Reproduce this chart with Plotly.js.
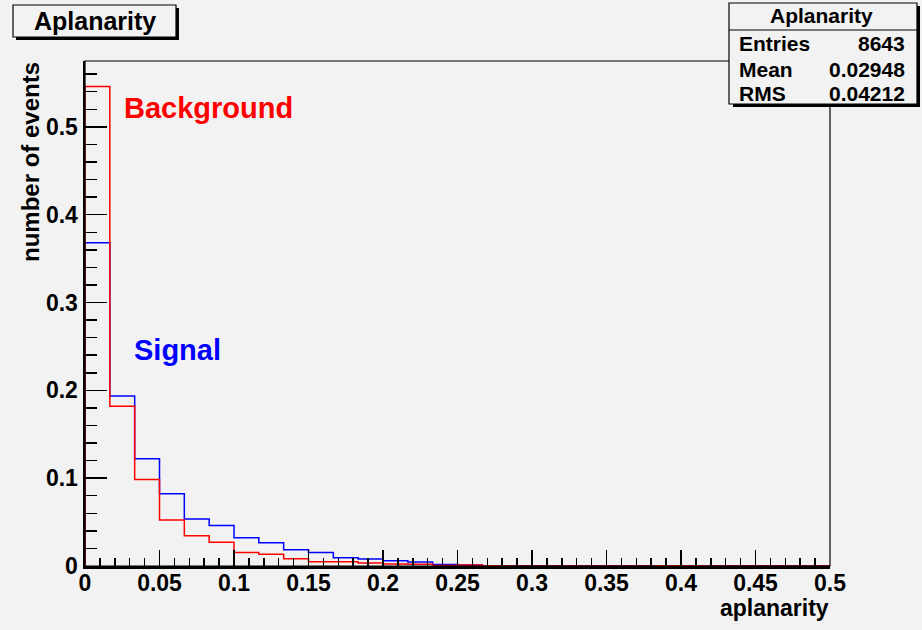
<!DOCTYPE html>
<html>
<head>
<meta charset="utf-8">
<script src="https://cdn.plot.ly/plotly-3.0.1.min.js"></script>
<style>
  html, body { margin: 0; padding: 0; background: #f2f2f2; }
  #chart { width: 922px; height: 630px; }
</style>
</head>
<body>
<div id="chart"></div>
<script>
// ---- data (30 bins on [0, 0.5]) ----
const xMin = 0;
const xMax = 0.5;
const nBins = 30;
const backgroundValues = [
  0.546, 0.182, 0.0985, 0.0523, 0.0345, 0.027, 0.0155, 0.0133, 0.0083, 0.0049,
  0.0049, 0.0034, 0.0023, 0.0020, 0.0006, 0.0010, 0.0002, 0.0001, 0.0001, 0.0001,
  0.0001, 0.0001, 0.0001, 0.0004, 0.0004, 0.0001, 0.0001, 0.0001, 0.0000, 0.0000
];
const signalValues = [
  0.368, 0.1935, 0.122, 0.0822, 0.0534, 0.0460, 0.0322, 0.0265, 0.0185, 0.0155,
  0.0095, 0.0080, 0.0060, 0.0045, 0.0018, 0.0012, 0.0004, 0.0003, 0.0003, 0.0002,
  0.0002, 0.0002, 0.0002, 0.0001, 0.0001, 0.0002, 0.0002, 0.0002, 0.0002, 0.0002
];
const statsTitle = "Aplanarity";
const statsLabels = ["Entries", "Mean", "RMS"];
const statsValues = ["8643", "0.02948", "0.04212"];
const histTitle = "Aplanarity";
const xTitle = "aplanarity";
const yTitle = "number of events";

// ---- build step outlines from the bin contents ----
function stepTrace(values) {
  const w = (xMax - xMin) / nBins;
  const xs = [xMin], ys = [0];
  for (let i = 0; i < values.length; i++) {
    xs.push(xMin + i * w);
    ys.push(values[i]);
  }
  xs.push(xMax);
  ys.push(values[values.length - 1]);
  return { xs, ys };
}
const sig = stepTrace(signalValues);
const bkg = stepTrace(backgroundValues);

const FONT = "Liberation Sans, Arial, Helvetica, sans-serif";
const BG = "#f2f2f2";

// pixel -> paper helpers (plot area: x 85..830, y 61..566)
const L = 85, R = 830, T = 61, B = 566;
const px = v => (v - L) / (R - L);
const py = v => (B - v) / (B - T);

const traces = [
  { x: sig.xs, y: sig.ys, type: "scatter", mode: "lines",
    line: { shape: "hv", color: "#0000ff", width: 1.5 }, hoverinfo: "skip", showlegend: false },
  { x: bkg.xs, y: bkg.ys, type: "scatter", mode: "lines",
    line: { shape: "hv", color: "#ff0000", width: 1.5 }, hoverinfo: "skip", showlegend: false }
];

const shapes = [
  // frame (top/right thin)
  { type: "rect", xref: "paper", yref: "paper", x0: 0, x1: 1, y0: 0, y1: 1,
    line: { color: "#000", width: 1.2 }, fillcolor: "rgba(0,0,0,0)", layer: "above" },
  // title box shadow + box
  { type: "rect", xref: "paper", yref: "paper", x0: px(16), x1: px(179), y0: py(40), y1: py(8),
    line: { width: 0 }, fillcolor: "#000" },
  { type: "rect", xref: "paper", yref: "paper", x0: px(13), x1: px(176), y0: py(37), y1: py(5),
    line: { color: "#000", width: 1.2 }, fillcolor: BG },
  // stats box shadow + box
  { type: "rect", xref: "paper", yref: "paper", x0: px(733), x1: px(920), y0: py(107), y1: py(6),
    line: { width: 0 }, fillcolor: "#000" },
  { type: "rect", xref: "paper", yref: "paper", x0: px(729), x1: px(917), y0: py(104), y1: py(3),
    line: { color: "#000", width: 1.2 }, fillcolor: BG },
  { type: "line", xref: "paper", yref: "paper", x0: px(729), x1: px(917), y0: py(30), y1: py(30),
    line: { color: "#000", width: 1.2 } }
];

const annotations = [
  { text: "<b>" + histTitle + "</b>", xref: "paper", yref: "paper", x: px(95), y: py(21),
    xanchor: "center", yanchor: "middle", showarrow: false, font: { family: FONT, size: 25, color: "#000" } },
  { text: "<b>" + statsTitle + "</b>", xref: "paper", yref: "paper", x: px(821), y: py(16),
    xanchor: "center", yanchor: "middle", showarrow: false, font: { family: FONT, size: 21, color: "#000" } },
  { text: "<b>Background</b>", xref: "paper", yref: "paper", x: px(122), y: py(108),
    xanchor: "left", yanchor: "middle", showarrow: false, font: { family: FONT, size: 29, color: "#ff0000" } },
  { text: "<b>Signal</b>", xref: "paper", yref: "paper", x: px(132), y: py(350),
    xanchor: "left", yanchor: "middle", showarrow: false, font: { family: FONT, size: 29, color: "#0000ff" } },
  { text: "<b>" + yTitle + "</b>", xref: "paper", yref: "paper", x: px(31), y: py(162),
    xanchor: "center", yanchor: "middle", textangle: -90, showarrow: false, font: { family: FONT, size: 24, color: "#000" } },
  { text: "<b>" + xTitle + "</b>", xref: "paper", yref: "paper", x: px(831), y: py(608),
    xanchor: "right", yanchor: "middle", showarrow: false, font: { family: FONT, size: 23, color: "#000" } }
];
const rowY = [44, 69, 94];
statsLabels.forEach((lab, i) => {
  annotations.push({ text: "<b>" + lab + "</b>", xref: "paper", yref: "paper", x: px(737), y: py(rowY[i]),
    xanchor: "left", yanchor: "middle", showarrow: false, font: { family: FONT, size: 21, color: "#000" } });
  annotations.push({ text: "<b>" + statsValues[i] + "</b>", xref: "paper", yref: "paper", x: px(907), y: py(rowY[i]),
    xanchor: "right", yanchor: "middle", showarrow: false, font: { family: FONT, size: 21, color: "#000" } });
});

const layout = {
  width: 922, height: 630,
  margin: { l: L, r: 922 - R, t: T, b: 630 - B, pad: 0 },
  paper_bgcolor: BG, plot_bgcolor: BG,
  showlegend: false,
  xaxis: {
    range: [xMin, xMax], dtick: 0.05, tick0: 0,
    ticks: "inside", ticklen: 16, tickwidth: 1.5, tickcolor: "#000",
    minor: { dtick: 0.01, ticks: "inside", ticklen: 8, tickwidth: 1.5, tickcolor: "#000", showgrid: false },
    showgrid: false, zeroline: false, showline: true, linecolor: "#000", linewidth: 2.5,
    ticklabelstandoff: -5,
    tickfont: { family: FONT, size: 23, color: "#000", weight: "bold" }
  },
  yaxis: {
    range: [0, 0.575], dtick: 0.1, tick0: 0,
    ticks: "inside", ticklen: 22, tickwidth: 1.5, tickcolor: "#000",
    minor: { dtick: 0.02, ticks: "inside", ticklen: 12, tickwidth: 1.5, tickcolor: "#000", showgrid: false },
    showgrid: false, zeroline: false, showline: true, linecolor: "#000", linewidth: 2.5,
    tickfont: { family: FONT, size: 23, color: "#000", weight: "bold" }
  },
  shapes: shapes,
  annotations: annotations
};

Plotly.newPlot("chart", traces, layout, { staticPlot: true, displayModeBar: false });
</script>
</body>
</html>
